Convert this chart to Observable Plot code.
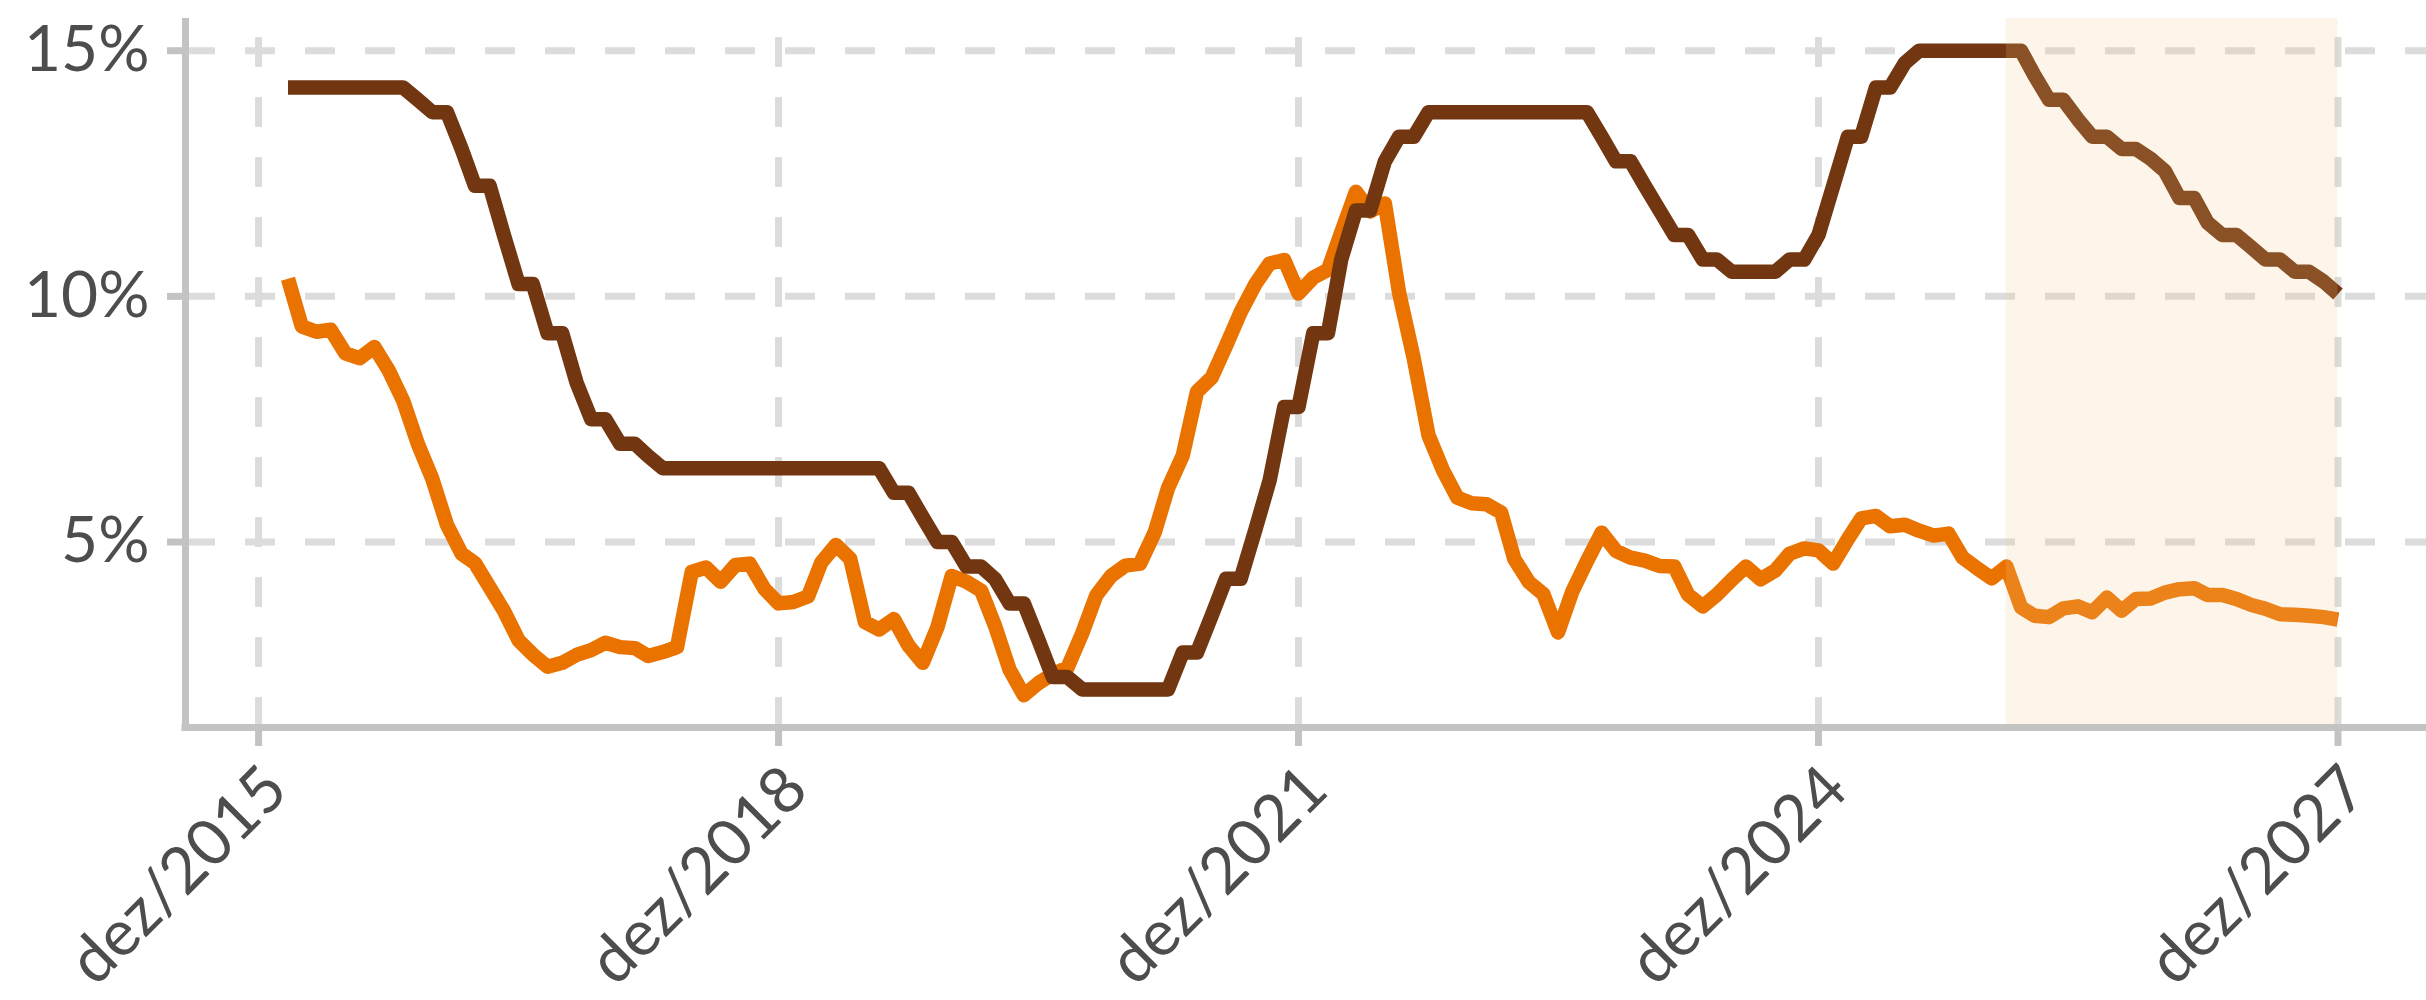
<!DOCTYPE html>
<html>
<head>
<meta charset="utf-8">
<script src="https://cdn.jsdelivr.net/npm/d3@7"></script>
<script src="https://cdn.jsdelivr.net/npm/@observablehq/plot@0.6"></script>
<style>
  html, body { margin: 0; padding: 0; background: #ffffff; overflow: hidden; }
  #chart svg { display: block; }
</style>
</head>
<body>
<div id="chart"></div>
<script>
// ---- data (monthly, first month = Feb 2016, last = Dec 2027) ----
const firstMonth = "2016-02-01";
const forecastStart = "2026-01-01";
const forecastEnd = "2027-12-01";

// Selic (% a.a.), start-of-month target rate; from Jan 2026 on: forecast
const selic = [
  14.25, 14.25, 14.25, 14.25, 14.25, 14.25, 14.25, 14.25, 14.25, 14.00, 13.75,
  13.75, 13.00, 12.25, 12.25, 11.25, 10.25, 10.25, 9.25, 9.25, 8.25, 7.50, 7.50,
  7.00, 7.00, 6.75, 6.50, 6.50, 6.50, 6.50, 6.50, 6.50, 6.50, 6.50, 6.50,
  6.50, 6.50, 6.50, 6.50, 6.50, 6.50, 6.50, 6.00, 6.00, 5.50, 5.00, 5.00,
  4.50, 4.50, 4.25, 3.75, 3.75, 3.00, 2.25, 2.25, 2.00, 2.00, 2.00, 2.00,
  2.00, 2.00, 2.00, 2.75, 2.75, 3.50, 4.25, 4.25, 5.25, 6.25, 7.75, 7.75,
  9.25, 9.25, 10.75, 11.75, 11.75, 12.75, 13.25, 13.25, 13.75, 13.75, 13.75, 13.75,
  13.75, 13.75, 13.75, 13.75, 13.75, 13.75, 13.75, 13.75, 13.25, 12.75, 12.75, 12.25,
  11.75, 11.25, 11.25, 10.75, 10.75, 10.50, 10.50, 10.50, 10.50, 10.75, 10.75, 11.25,
  12.25, 13.25, 13.25, 14.25, 14.25, 14.75, 15.00, 15.00, 15.00, 15.00, 15.00, 15.00,
  15.00, 15.00, 14.50, 14.00, 14.00, 13.60, 13.25, 13.25, 13.00, 13.00, 12.80, 12.55,
  12.00, 12.00, 11.50, 11.25, 11.25, 11.00, 10.75, 10.75, 10.50, 10.50, 10.30, 10.05
];

// IPCA, 12-month change (%); from Jan 2026 on: forecast
const ipca = [
  10.36, 9.39, 9.28, 9.32, 8.84, 8.74, 8.97, 8.48, 7.87, 6.99, 6.29,
  5.35, 4.76, 4.57, 4.08, 3.60, 3.00, 2.71, 2.46, 2.54, 2.70, 2.80, 2.95,
  2.86, 2.84, 2.68, 2.76, 2.86, 4.39, 4.48, 4.19, 4.53, 4.56, 4.05, 3.75,
  3.78, 3.89, 4.58, 4.94, 4.66, 3.37, 3.22, 3.43, 2.89, 2.54, 3.27, 4.31,
  4.19, 4.01, 3.30, 2.40, 1.88, 2.13, 2.31, 2.44, 3.14, 3.92, 4.31, 4.52,
  4.56, 5.20, 6.10, 6.76, 8.06, 8.35, 8.99, 9.68, 10.25, 10.67, 10.74, 10.06,
  10.38, 10.54, 11.30, 12.13, 11.73, 11.89, 10.07, 8.73, 7.17, 6.47, 5.90, 5.79,
  5.77, 5.60, 4.65, 4.18, 3.94, 3.16, 3.99, 4.61, 5.19, 4.82, 4.68, 4.62,
  4.51, 4.50, 3.93, 3.69, 3.93, 4.23, 4.50, 4.24, 4.42, 4.76, 4.87, 4.83,
  4.56, 5.06, 5.48, 5.53, 5.32, 5.35, 5.23, 5.13, 5.17, 4.68, 4.46, 4.26,
  4.50, 3.67, 3.50, 3.47, 3.65, 3.69, 3.57, 3.87, 3.60, 3.84, 3.85, 3.97,
  4.04, 4.06, 3.92, 3.92, 3.84, 3.72, 3.64, 3.53, 3.52, 3.50, 3.47, 3.42
];

const xTickDates = ["2015-12-01", "2018-12-01", "2021-12-01", "2024-12-01", "2027-12-01"];
const xTickLabels = ["dez/2015", "dez/2018", "dez/2021", "dez/2024", "dez/2027"];
const yTicks = [5, 10, 15];
const yTickLabels = ["5%", "10%", "15%"];

// ---- build table ----
const start = new Date(firstMonth + "T00:00:00Z");
const rows = selic.map((s, i) => ({
  date: d3.utcMonth.offset(start, i),
  selic: s,
  ipca: ipca[i]
}));

const tickDates = xTickDates.map(s => new Date(s + "T00:00:00Z"));
const tickLabelOf = new Map(tickDates.map((d, i) => [+d, xTickLabels[i]]));
const yLabelOf = new Map(yTicks.map((v, i) => [v, yTickLabels[i]]));

// ggplot-like 5% expansion of both scales
const t0 = +rows[0].date, t1 = +rows[rows.length - 1].date;
const tp = 0.05 * (t1 - t0);
const allY = selic.concat(ipca);
const yLo = d3.min(allY), yHi = d3.max(allY);
const yp = 0.05 * (yHi - yLo);
const yMin = yLo - yp, yMax = yHi + yp;
const xMin = new Date(t0 - tp), xMax = new Date(t1 + tp);

const W = 2426, H = 1000;
const mLeft = 185, mTop = 18, mBottom = 273;

const gridColor = "#dcdcdc";
const axisColor = "#c3c3c3";
const textColor = "#4d4d4d";

const chart = Plot.plot({
  width: W,
  height: H,
  marginLeft: mLeft,
  marginRight: 0,
  marginTop: mTop,
  marginBottom: mBottom,
  style: { fontFamily: "Lato", background: "#ffffff", color: textColor },
  x: { type: "utc", domain: [xMin, xMax], range: [mLeft, 2440], axis: null },
  y: { domain: [yMin, yMax], axis: null },
  marks: [
    // gridlines
    Plot.ruleY(yTicks, { stroke: gridColor, strokeWidth: 7, strokeDasharray: "30,30" }),
    Plot.ruleX(tickDates, { x: d => d, y1: yMin, y2: yMax, stroke: gridColor, strokeWidth: 7, strokeDasharray: "30,30" }),
    // series
    Plot.line(rows, { x: "date", y: "ipca", stroke: "#ea7300", strokeWidth: 14.5, strokeLinecap: "butt", strokeLinejoin: "round" }),
    Plot.line(rows, { x: "date", y: "selic", stroke: "#723610", strokeWidth: 14.5, strokeLinecap: "butt", strokeLinejoin: "round" }),
    // forecast shading (overlay)
    Plot.rect([{ x1: new Date(forecastStart + "T00:00:00Z"), x2: new Date(forecastEnd + "T00:00:00Z") }],
      { x1: "x1", x2: "x2", fill: "#f5c889", fillOpacity: 0.19 }),
    // axis lines
    Plot.ruleX([xMin], { stroke: axisColor, strokeWidth: 7 }),
    Plot.ruleY([yMin], { stroke: axisColor, strokeWidth: 7, strokeLinecap: "square" }),
    // axes
    Plot.axisY(yTicks, {
      tickFormat: d => yLabelOf.get(d),
      tickSize: 18, tickPadding: 18,
      stroke: axisColor, strokeWidth: 7,
      fill: textColor, fontSize: 64
    }),
    Plot.axisX(tickDates, {
      tickFormat: d => tickLabelOf.get(+d),
      tickRotate: -45, textAnchor: "end", lineAnchor: "top",
      tickSize: 19, tickPadding: 14,
      stroke: axisColor, strokeWidth: 7,
      fill: textColor, fontSize: 64
    })
  ]
});

document.getElementById("chart").appendChild(chart);
</script>
</body>
</html>
